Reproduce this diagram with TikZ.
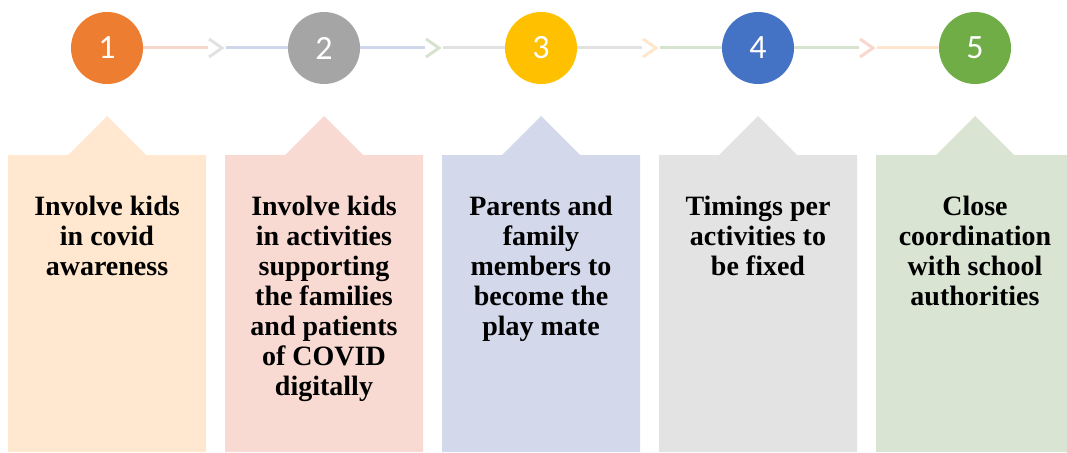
\documentclass[tikz,border=0pt]{standalone}
\usepackage{fontspec}
\setmainfont{Liberation Serif}
\newfontfamily\numfont{Carlito}
\usetikzlibrary{calc}
% circle colours
\definecolor{cOne}{HTML}{ED7D31}
\definecolor{cTwo}{HTML}{A5A5A5}
\definecolor{cThree}{HTML}{FFC000}
\definecolor{cFour}{HTML}{4472C4}
\definecolor{cFive}{HTML}{70AD47}
% box colours
\definecolor{bOne}{RGB}{255,232,207}
\definecolor{bTwo}{RGB}{248,218,210}
\definecolor{bThree}{RGB}{211,216,235}
\definecolor{bFour}{RGB}{227,227,227}
\definecolor{bFive}{RGB}{217,228,211}
% connector colours
\definecolor{lnPink}{RGB}{248,215,205}
\definecolor{lnBlue}{RGB}{208,214,236}
\definecolor{lnGrey}{RGB}{226,226,226}
\definecolor{lnGreen}{RGB}{214,227,206}
\definecolor{lnOrange}{RGB}{255,230,204}
\begin{document}
\begin{tikzpicture}[x=1pt, y=-1pt, line join=miter,
	num/.style={circle, minimum size=72pt, inner sep=0pt, text=white, font=\numfont\fontsize{34}{34}\selectfont},
	link/.style={line width=3pt},
	steptext/.style={align=center, anchor=north, inner sep=0pt, font=\bfseries\fontsize{28}{30}\selectfont}]
	\useasboundingbox (0,0) rectangle (1067,452);
	% columns: circle and box
	\foreach \i/\cc/\bc in {1/cOne/bOne, 2/cTwo/bTwo, 3/cThree/bThree, 4/cFour/bFour, 5/cFive/bFive}{
		\pgfmathsetmacro\xc{107+217*(\i-1)}
		\fill[\bc] ({\xc-99},452) -- ({\xc-99},155) -- ({\xc-39},155) -- (\xc,116) -- ({\xc+39},155) -- ({\xc+99},155) -- ({\xc+99},452) -- cycle;
		\node[num, fill=\cc] (c\i) at (\xc,48) {\i};
	}
	% connectors with chevrons
	\foreach \i/\j/\la/\ch/\lb in {1/2/lnPink/lnGrey/lnBlue, 2/3/lnBlue/lnGreen/lnGrey, 3/4/lnGrey/lnOrange/lnGreen, 4/5/lnGreen/lnPink/lnOrange}{
		\coordinate (k\i) at ($(c\i)+(101,0)$);
		\coordinate (m\i) at ($(k\i)+(18,0)$);
		\draw[link, \la] (c\i.east) -- (k\i);
		\draw[link, \ch] ($(k\i)+(1,-9)$) -- ($(k\i)+(14,0)$) -- ($(k\i)+(1,9)$);
		\draw[link, \lb] (m\i) -- (c\j.west);
	}
	% texts (first baseline at y=215)
	\node[steptext] (t1) at (c1|-0,194) {\strut Involve kids\\in covid\\awareness};
	\node[steptext] (t2) at (c2|-0,194) {\strut Involve kids\\in activities\\supporting\\the families\\and patients\\of COVID\\digitally};
	\node[steptext] (t3) at (c3|-0,194) {\strut Parents and\\family\\members to\\become the\\play mate};
	\node[steptext] (t4) at (c4|-0,194) {\strut Timings per\\activities to\\be fixed};
	\node[steptext] (t5) at (c5|-0,194) {\strut Close\\coordination\\with school\\authorities};
\end{tikzpicture}
\end{document}
